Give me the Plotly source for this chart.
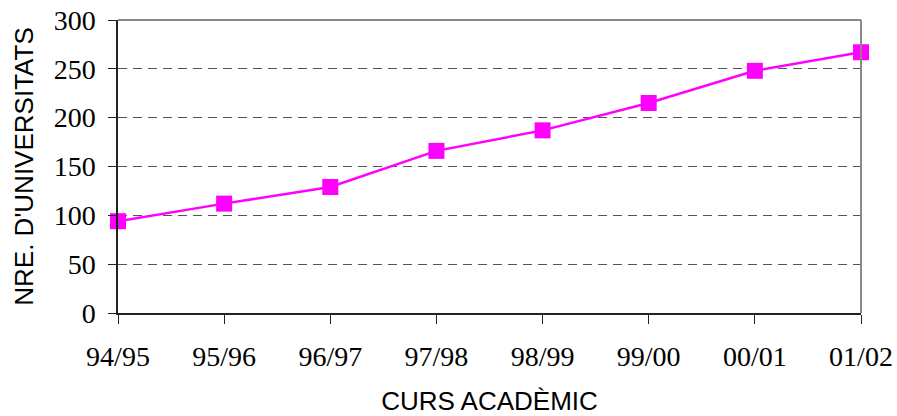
import plotly.graph_objects as go

# Data
cursos = ['94/95', '95/96', '96/97', '97/98', '98/99', '99/00', '00/01', '01/02']
universitats = [94, 112, 129, 166, 187, 215, 248, 267]
y_ticks = [0, 50, 100, 150, 200, 250, 300]

fig = go.Figure()

fig.add_trace(go.Scatter(
    x=cursos, y=universitats,
    mode='lines+markers',
    line=dict(color='#FF00FF', width=2.5),
    marker=dict(symbol='square', size=16, color='#FF00FF'),
    showlegend=False,
    cliponaxis=False,
))

fig.update_layout(
    width=897, height=416,
    margin=dict(l=118, r=36, t=20, b=103),
    paper_bgcolor='white', plot_bgcolor='white',
    xaxis=dict(
        type='category', range=[0, len(cursos) - 1], automargin=False,
        showline=True, linecolor='#222', linewidth=1.5,
        ticks='outside', ticklen=9, tickcolor='#222', tickwidth=1,
        ticklabelstandoff=9, ticklabeloverflow='allow',
        showgrid=False, zeroline=False,
        tickfont=dict(family='Liberation Serif', size=28, color='black'),
        title=dict(text='CURS ACADÈMIC', standoff=21,
                   font=dict(family='Liberation Sans', size=26, color='black')),
    ),
    yaxis=dict(
        range=[0, 300], tickvals=y_ticks, automargin=False,
        showline=True, linecolor='#222', linewidth=1.5,
        ticks='outside', ticklen=8, tickcolor='#222', tickwidth=1,
        ticklabelstandoff=7, ticklabeloverflow='allow',
        showgrid=True, gridcolor='#555', griddash='9px,6px', gridwidth=1,
        zeroline=False,
        tickfont=dict(family='Liberation Serif', size=28, color='black'),
        title=dict(text="NRE. D'UNIVERSITATS", standoff=13,
                   font=dict(family='Liberation Sans', size=26, color='black')),
    ),
    shapes=[
        dict(type='line', xref='paper', yref='paper', x0=0, x1=1, y0=1, y1=1,
             line=dict(color='#888', width=2)),
        dict(type='line', xref='paper', yref='paper', x0=1, x1=1, y0=0, y1=1,
             line=dict(color='#888', width=2)),
    ],
)

# drop the default body margin so the figure fills the window exactly
fig.write_html("out.html",
               config={'displayModeBar': False},
               post_script="document.body.style.margin='0';document.body.style.overflow='hidden';")
